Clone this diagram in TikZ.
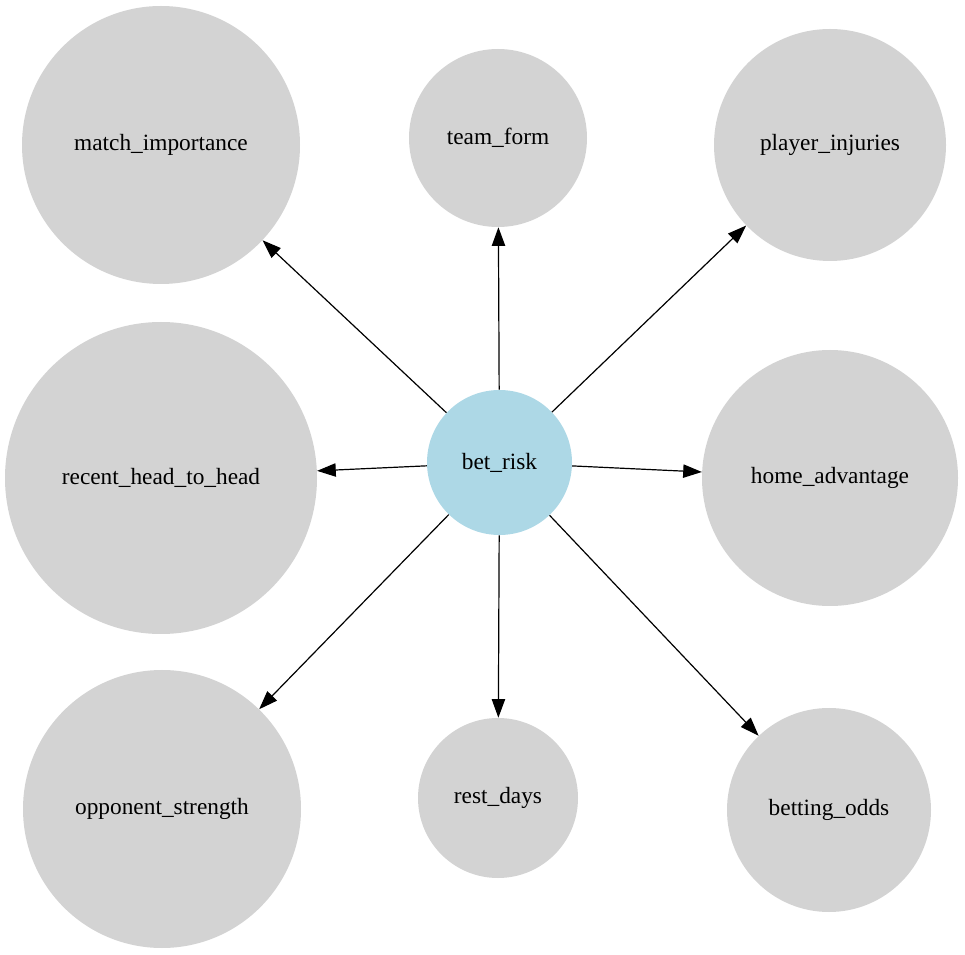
\documentclass[tikz,border=0pt]{standalone}
\usepackage{fontspec}
\setmainfont{Liberation Serif}
\usetikzlibrary{arrows.meta}
\definecolor{riskblue}{RGB}{173,216,230}
\definecolor{factorgray}{RGB}{211,211,211}
\tikzset{
  factor/.style={circle,fill=factorgray,draw=none,inner sep=0pt,font=\fontsize{17.5}{20}\selectfont},
  risk/.style={factor,fill=riskblue},
  link/.style={-{Triangle[length=14pt,width=10pt]},draw=black,line width=0.9pt}
}
\begin{document}
\begin{tikzpicture}[x=0.75pt,y=-0.75pt]
\useasboundingbox (0,0) rectangle (965,955);
\node[risk,minimum size=108.75pt] (betrisk) at (499.5,462.5) {bet\_risk};
\node[factor,minimum size=208.5pt] (match) at (161,145) {match\_importance};
\node[factor,minimum size=133.5pt] (form) at (498,138) {team\_form};
\node[factor,minimum size=174pt] (injuries) at (830,145) {player\_injuries};
\node[factor,minimum size=234pt] (headtohead) at (161,478) {recent\_head\_to\_head};
\node[factor,minimum size=192pt] (home) at (830,478) {home\_advantage};
\node[factor,minimum size=208.5pt] (opponent) at (162,809) {opponent\_strength};
\node[factor,minimum size=120pt] (rest) at (498,798) {rest\_days};
\node[factor,minimum size=153pt] (odds) at (829,810) {betting\_odds};
\foreach \target in {match,form,injuries,headtohead,home,opponent,rest,odds}
  \draw[link] (betrisk) -- (\target);
\end{tikzpicture}
\end{document}
